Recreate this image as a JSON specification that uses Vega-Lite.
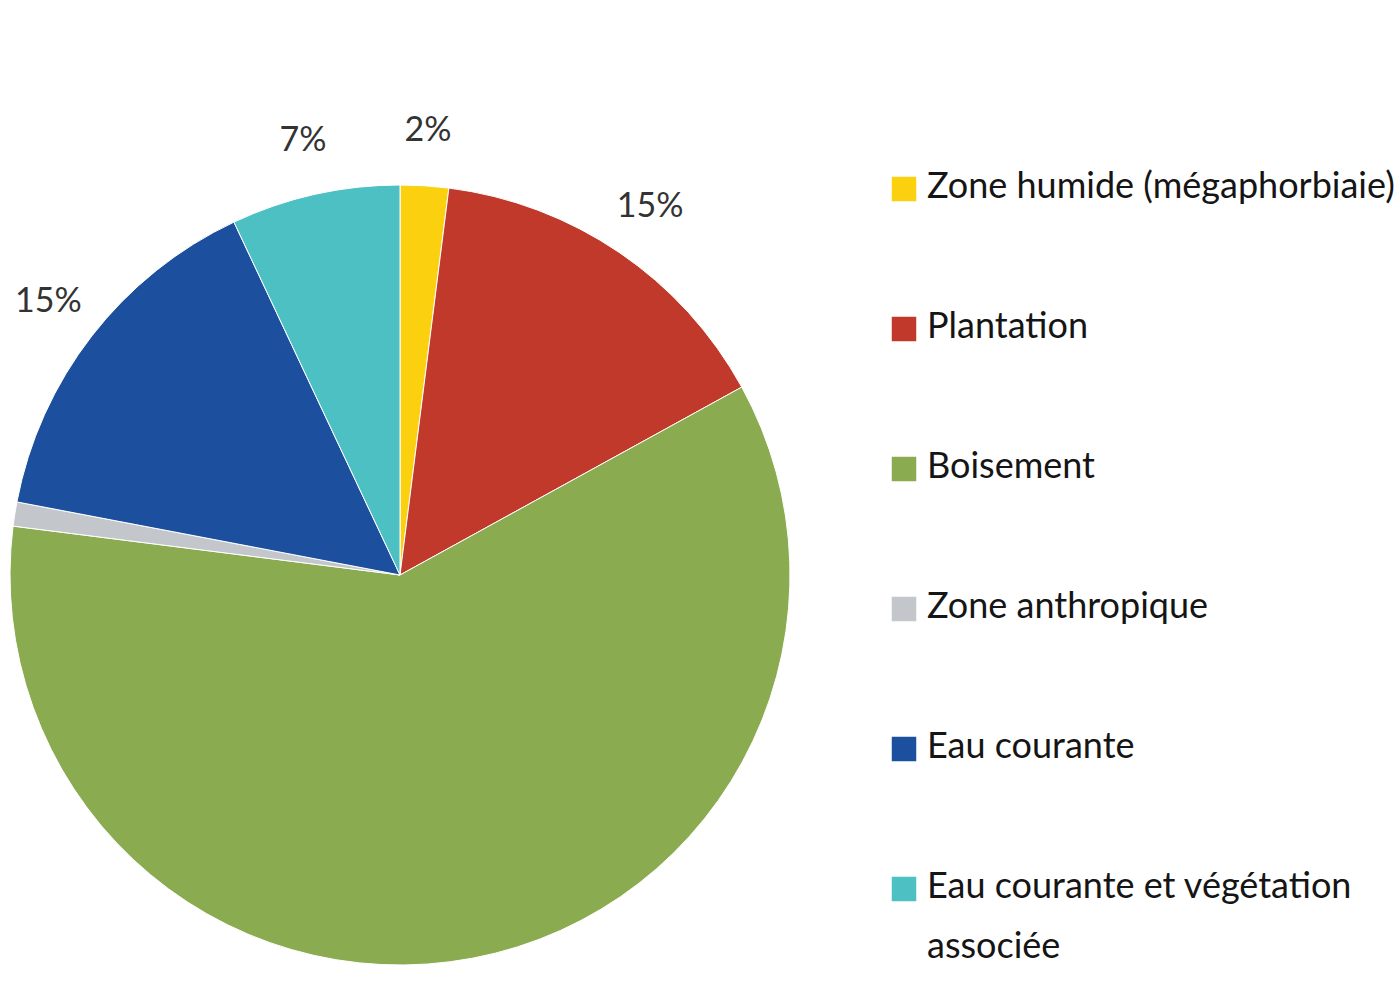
{
  "$schema": "https://vega.github.io/schema/vega-lite/v6.json",
  "width": 800,
  "height": 1150,
  "autosize": "none",
  "padding": {"left": 0, "top": 0, "right": 594, "bottom": -164},
  "background": "white",
  "config": {
    "view": {"stroke": null},
    "style": {"guide-label": {"lineHeight": 60, "dy": -19}}
  },
  "data": {
    "values": [
      {"categorie": "Zone humide (mégaphorbiaie)", "part": 2, "rang": 1, "etiquette": "2%"},
      {"categorie": "Plantation", "part": 15, "rang": 2, "etiquette": "15%"},
      {"categorie": "Boisement", "part": 60, "rang": 3, "etiquette": "60%"},
      {"categorie": "Zone anthropique", "part": 1, "rang": 4, "etiquette": "1%"},
      {"categorie": "Eau courante", "part": 15, "rang": 5, "etiquette": "15%"},
      {"categorie": "Eau courante et végétation associée", "part": 7, "rang": 6, "etiquette": "7%"}
    ]
  },
  "encoding": {
    "theta": {"field": "part", "type": "quantitative", "stack": true},
    "order": {"field": "rang", "type": "quantitative"}
  },
  "layer": [
    {
      "mark": {"type": "arc", "outerRadius": 390, "stroke": "white", "strokeWidth": 1},
      "encoding": {
        "color": {
          "field": "categorie",
          "type": "nominal",
          "scale": {
            "domain": ["Zone humide (mégaphorbiaie)", "Plantation", "Boisement", "Zone anthropique", "Eau courante", "Eau courante et végétation associée"],
            "range": ["#FAD00F", "#C0392B", "#8BAB50", "#C3C6CB", "#1D4F9F", "#4CC0C3"]
          },
          "legend": {
            "orient": "none",
            "legendX": 886,
            "legendY": 171,
            "title": null,
            "symbolType": "square",
            "symbolSize": 600,
            "symbolStrokeWidth": 0,
            "labelFontSize": 36,
            "labelFont": "Lato",
            "labelColor": "#151515",
            "labelOffset": 5,
            "labelLimit": 800,
            "rowPadding": 104,
            "labelExpr": "datum.label == 'Eau courante et végétation associée' ? ['Eau courante et végétation', 'associée'] : datum.label",
            "labelBaseline": "top"
          }
        }
      }
    },
    {
      "mark": {"type": "text", "radius": 445, "fontSize": 34, "font": "Lato", "fill": "#333333"},
      "encoding": {
        "text": {"field": "etiquette", "type": "nominal"}
      }
    }
  ]
}
